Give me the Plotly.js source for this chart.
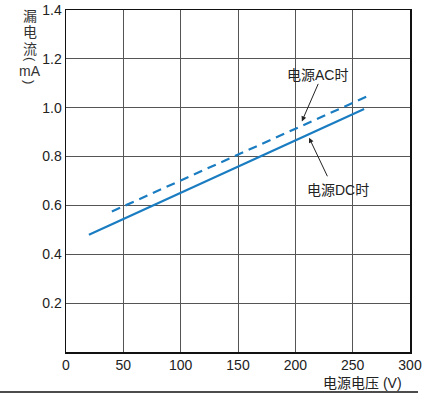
<!DOCTYPE html>
<html><head><meta charset="utf-8">
<script src="https://cdn.plot.ly/plotly-3.0.1.min.js"></script>
<style>html,body{margin:0;padding:0;background:#fff}#chart{width:427px;height:403px}</style>
</head><body><div id="chart"></div>
<script>
const dcVoltage = [20, 260];
const dcCurrent = [0.48, 0.995];
const acVoltage = [40, 262];
const acCurrent = [0.575, 1.045];
const xTicks = [0, 50, 100, 150, 200, 250, 300];
const yTicks = [0.2, 0.4, 0.6, 0.8, 1.0, 1.2, 1.4];
const yTickText = ['0.2', '0.4', '0.6', '0.8', '1.0', '1.2', '1.4'];
const labelAC = '电源AC时';
const labelDC = '电源DC时';
const xTitle = '电源电压 (V)';
const yTitleParts = ['漏', '电', '流', '(', 'mA', ')'];

const FONT = 'Liberation Sans, Arial, Noto Sans CJK SC, sans-serif';
const blue = '#1a7cc1';

const traces = [
  {x: dcVoltage, y: dcCurrent, mode: 'lines', line: {color: blue, width: 2.2}, hoverinfo: 'skip'},
  {x: acVoltage, y: acCurrent, mode: 'lines', line: {color: blue, width: 2.2, dash: '9px,6px'}, hoverinfo: 'skip'}
];

const yPix = [16, 32, 49, 59, 71, 82];
const ann = yTitleParts.map((t, i) => ({
  xref: 'paper', yref: 'paper', x: (30 - 66) / 344, y: (352 - yPix[i]) / 342,
  text: t, showarrow: false, xanchor: 'center', yanchor: 'middle',
  textangle: (t === '(' || t === ')') ? 90 : 0,
  font: {family: FONT, size: (t === '(' || t === ')') ? 13 : 14, color: '#333'}
}));
ann.push(
  {x: 219, y: 1.135, text: labelAC, showarrow: false, font: {family: FONT, size: 14, color: '#222'}},
  {x: 237.3, y: 0.664, text: labelDC, showarrow: false, font: {family: FONT, size: 14, color: '#222'}},
  {x: 205.7, y: 0.944, text: '', showarrow: true, ax: 17, ay: -39, arrowhead: 2, arrowsize: 1, arrowwidth: 1, arrowcolor: '#222', standoff: 0},
  {x: 212, y: 0.877, text: '', showarrow: true, ax: 19, ay: 40, arrowhead: 2, arrowsize: 1, arrowwidth: 1, arrowcolor: '#222', standoff: 0},
  {xref: 'paper', yref: 'paper', x: (404 - 66) / 344, y: (352 - 383) / 342, xanchor: 'right', yanchor: 'middle',
   text: xTitle, showarrow: false, font: {family: FONT, size: 14, color: '#222'}}
);

const layout = {
  width: 427, height: 403,
  margin: {l: 66, r: 17, t: 10, b: 51},
  paper_bgcolor: '#fff', plot_bgcolor: '#fff',
  showlegend: false,
  font: {family: FONT, size: 14, color: '#222'},
  xaxis: {range: [0, 300], tickvals: xTicks, showgrid: true, gridcolor: '#555', gridwidth: 1,
          showline: true, linecolor: '#111', linewidth: 1.5, mirror: true, zeroline: false,
          ticks: '', ticklen: 0, tickfont: {family: FONT, size: 14, color: '#222'}},
  yaxis: {range: [0, 1.4], tickvals: yTicks, ticktext: yTickText, showgrid: true, gridcolor: '#555', gridwidth: 1,
          showline: true, linecolor: '#111', linewidth: 1.5, mirror: true, zeroline: false,
          ticks: '', ticklen: 0, tickfont: {family: FONT, size: 14, color: '#222'}},
  annotations: ann,
  shapes: [{type: 'line', xref: 'paper', yref: 'paper', x0: (0 - 66) / 344, x1: (418 - 66) / 344,
            y0: (352 - 392) / 342, y1: (352 - 392) / 342, line: {color: '#111', width: 1.5}}]
};

Plotly.newPlot('chart', traces, layout, {staticPlot: true, displayModeBar: false});
</script></body></html>
